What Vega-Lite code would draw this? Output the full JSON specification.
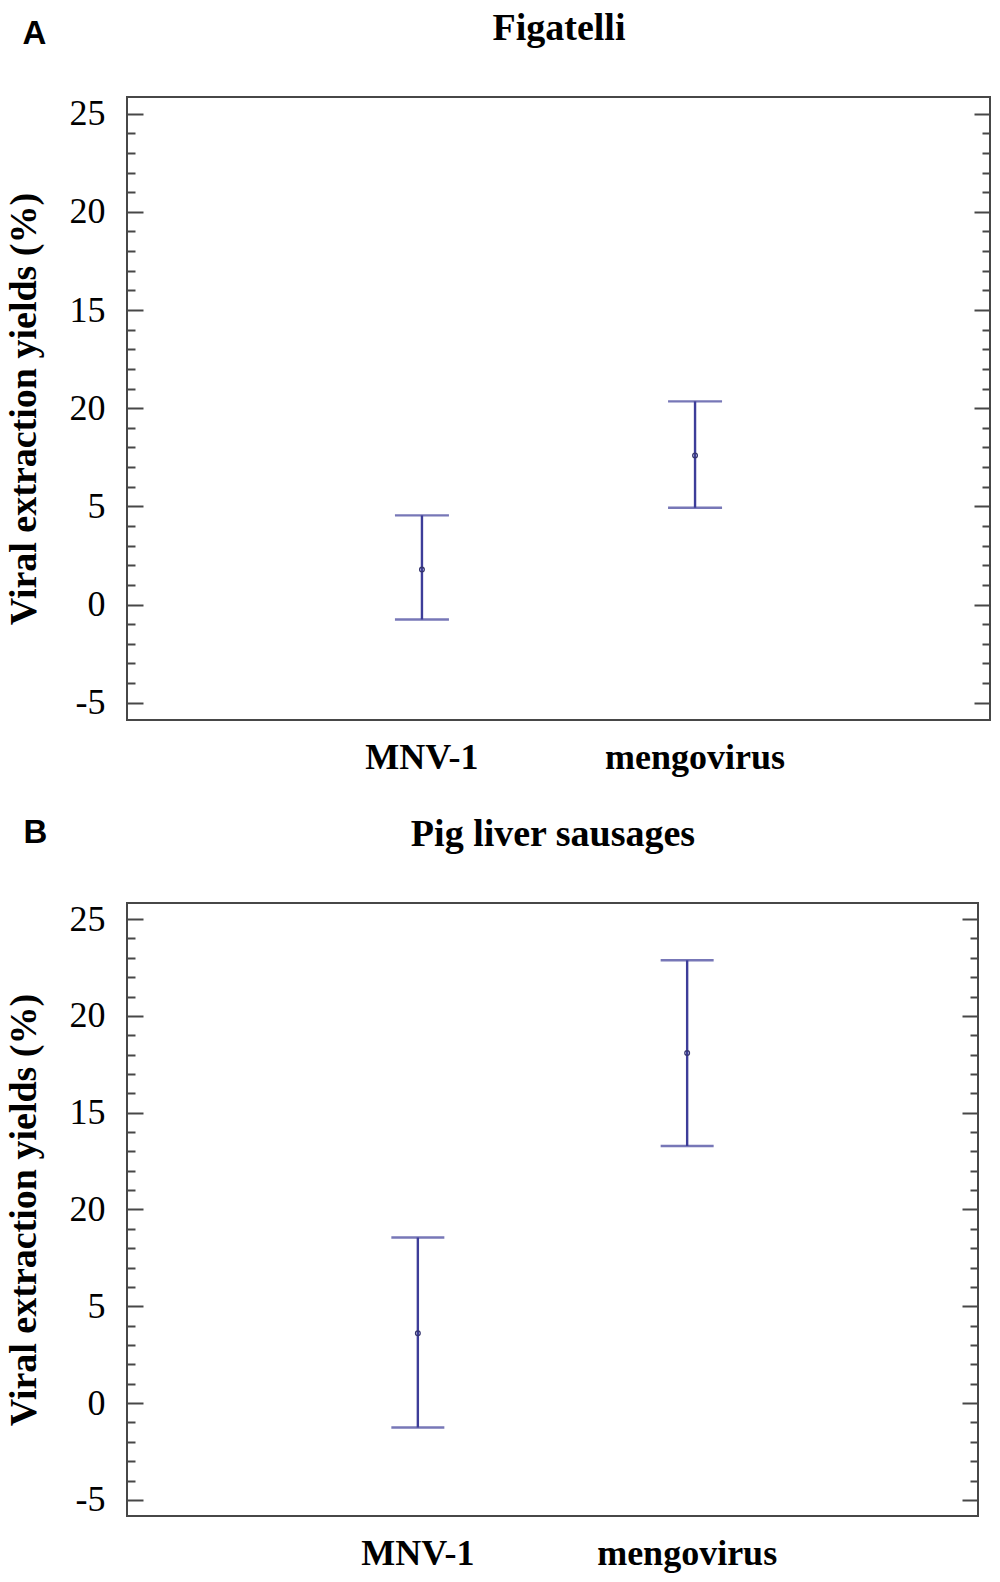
{
  "$schema": "https://vega.github.io/schema/vega-lite/v6.json",
  "background": "white",
  "padding": {"left": 4, "top": 8, "right": 6, "bottom": 2},
  "datasets": {
    "figatelli": [
      {"virus": "MNV-1", "low": -0.76, "mean": 1.78, "high": 4.54},
      {"virus": "mengovirus", "low": 4.93, "mean": 7.59, "high": 10.35}
    ],
    "sausages": [
      {"virus": "MNV-1", "low": -1.26, "mean": 3.61, "high": 8.55},
      {"virus": "mengovirus", "low": 13.28, "mean": 18.08, "high": 22.87}
    ]
  },
  "config": {
    "font": "Liberation Serif",
    "view": {"stroke": "#474747", "strokeWidth": 2},
    "axisX": {
      "ticks": false, "tickSize": 0, "domain": false, "grid": false,
      "labelAngle": 0, "labelFont": "Liberation Serif", "labelFontSize": 36, "labelLimit": 0,
      "labelFontWeight": "bold", "labelColor": "black", "labelPadding": 20,
      "titleFont": "Liberation Serif", "titleFontSize": 38, "titleFontWeight": "bold", "titleColor": "black"
    },
    "axisY": {
      "values": [-5, -4, -3, -2, -1, 0, 1, 2, 3, 4, 5, 6, 7, 8, 9, 10, 11, 12, 13, 14, 15, 16, 17, 18, 19, 20, 21, 22, 23, 24, 25],
      "tickCount": 40,
      "tickSize": {"condition": {"test": "datum.value % 5 === 0", "value": -16}, "value": -8},
      "tickColor": "#474747", "tickWidth": 2, "domain": false, "grid": false,
      "labelOverlap": false, "labelFont": "Liberation Serif", "labelFontSize": 36,
      "labelColor": "black", "labelPadding": 38,
      "titleFont": "Liberation Serif", "titleFontSize": 38, "titleFontWeight": "bold",
      "titleColor": "black", "titlePadding": 26
    }
  },
  "vconcat": [
    {
      "width": 863,
      "height": 623,
      "data": {"name": "figatelli"},
      "layer": [
        {
          "mark": {"type": "errorbar", "ticks": true, "size": 54, "thickness": 2.4, "color": "#3d3d99"},
          "encoding": {
            "x": {"field": "virus", "type": "nominal", "sort": null, "scale": {"type": "band", "paddingInner": 0.84, "paddingOuter": 1}, "axis": {"orient": "bottom", "title": null}},
            "y": {"field": "low", "type": "quantitative", "scale": {"domain": [-5.88, 25.85], "nice": false, "zero": false},
              "axis": {"orient": "left", "title": "Viral extraction yields (%)", "labelExpr": "datum.value % 5 === 0 ? (datum.value === 10 ? '20' : '' + datum.value) : ''"}},
            "y2": {"field": "high"}
          }
        },
        {
          "mark": {"type": "point", "shape": "circle", "filled": false, "size": 22, "strokeWidth": 1.3, "color": "#35356e", "opacity": 1},
          "encoding": {
            "x": {"field": "virus", "type": "nominal", "sort": null, "scale": {"type": "band", "paddingInner": 0.84, "paddingOuter": 1},
              "axis": {"orient": "top", "labels": false, "ticks": false, "domain": false, "title": "Figatelli",
                "titleBaseline": "alphabetic", "titleY": -58}},
            "y": {"field": "mean", "type": "quantitative", "scale": {"domain": [-5.88, 25.85], "nice": false, "zero": false},
              "axis": {"orient": "right", "labels": false, "title": "A",
                "titleFont": "Liberation Sans", "titleFontSize": 33, "titleFontWeight": "bold",
                "titleAngle": 0, "titleAlign": "left", "titleBaseline": "alphabetic", "titleX": -968, "titleY": -54}}
          }
        }
      ],
      "resolve": {"axis": {"x": "independent", "y": "independent"}}
    },
    {
      "width": 851,
      "height": 613,
      "data": {"name": "sausages"},
      "layer": [
        {
          "mark": {"type": "errorbar", "ticks": true, "size": 53, "thickness": 2.4, "color": "#3d3d99"},
          "encoding": {
            "x": {"field": "virus", "type": "nominal", "sort": null, "scale": {"type": "band", "paddingInner": 0.84, "paddingOuter": 1}, "axis": {"orient": "bottom", "title": null}},
            "y": {"field": "low", "type": "quantitative", "scale": {"domain": [-5.83, 25.83], "nice": false, "zero": false},
              "axis": {"orient": "left", "title": "Viral extraction yields (%)", "labelExpr": "datum.value % 5 === 0 ? (datum.value === 10 ? '20' : '' + datum.value) : ''"}},
            "y2": {"field": "high"}
          }
        },
        {
          "mark": {"type": "point", "shape": "circle", "filled": false, "size": 22, "strokeWidth": 1.3, "color": "#35356e", "opacity": 1},
          "encoding": {
            "x": {"field": "virus", "type": "nominal", "sort": null, "scale": {"type": "band", "paddingInner": 0.84, "paddingOuter": 1},
              "axis": {"orient": "top", "labels": false, "ticks": false, "domain": false, "title": "Pig liver sausages",
                "titleBaseline": "alphabetic", "titleY": -58}},
            "y": {"field": "mean", "type": "quantitative", "scale": {"domain": [-5.83, 25.83], "nice": false, "zero": false},
              "axis": {"orient": "right", "labels": false, "title": "B",
                "titleFont": "Liberation Sans", "titleFontSize": 33, "titleFontWeight": "bold",
                "titleAngle": 0, "titleAlign": "left", "titleBaseline": "alphabetic", "titleX": -955, "titleY": -61}}
          }
        }
      ],
      "resolve": {"axis": {"x": "independent", "y": "independent"}}
    }
  ],
  "spacing": 38
}
